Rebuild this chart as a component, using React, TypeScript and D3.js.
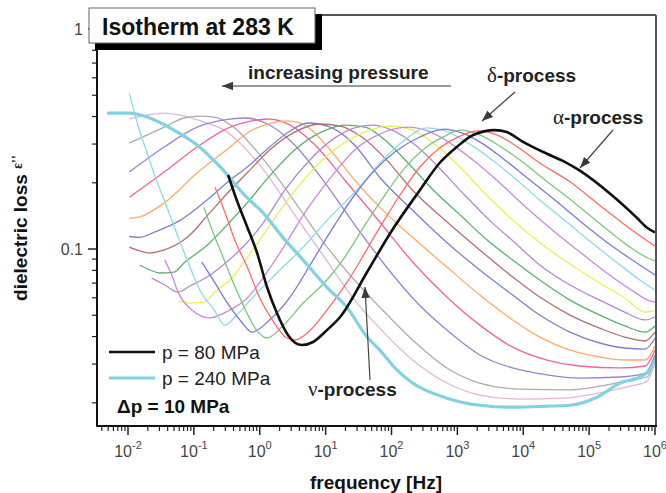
import React from "react";
import * as d3 from "d3";

// ---- data: [log10(frequency / Hz), dielectric loss eps''] ----
const p80 = [[-0.48,0.217],[-0.35,0.167],[-0.19,0.126],[-0.04,0.0959],[0.11,0.0672],[0.26,0.0512],[0.43,0.0406],[0.64,0.0366],[0.81,0.0378],[1.02,0.0428],[1.22,0.0491],[1.63,0.0786],[1.98,0.118],[2.43,0.185],[2.73,0.246],[2.99,0.291],[3.24,0.330],[3.57,0.347],[3.75,0.340],[3.99,0.308],[4.36,0.271],[4.63,0.249],[4.86,0.227],[5.36,0.174],[5.72,0.139],[5.88,0.125],[6.00,0.119]];
const p90 = [[-0.68,0.191],[-0.53,0.147],[-0.38,0.110],[-0.19,0.0828],[0.00,0.0599],[0.19,0.0476],[0.41,0.0394],[0.53,0.0386],[0.72,0.0415],[1.02,0.0528],[1.32,0.0701],[1.55,0.0910],[1.82,0.125],[2.13,0.176],[2.43,0.236],[2.73,0.288],[3.04,0.326],[3.31,0.344],[3.57,0.333],[3.87,0.297],[4.25,0.246],[4.71,0.202],[5.16,0.158],[5.54,0.129],[5.88,0.109],[6.00,0.103]];
const p100 = [[-0.85,0.155],[-0.71,0.119],[-0.57,0.0939],[-0.42,0.0723],[-0.25,0.0556],[-0.07,0.0437],[0.11,0.0394],[0.35,0.0447],[0.66,0.0568],[1.02,0.0723],[1.26,0.0891],[1.60,0.129],[1.90,0.176],[2.20,0.233],[2.51,0.288],[2.81,0.326],[3.05,0.347],[3.34,0.330],[3.64,0.294],[3.95,0.254],[4.33,0.206],[4.78,0.162],[5.24,0.125],[5.62,0.102],[5.89,0.0910],[6.00,0.0882]];
const p110 = [[-0.88,0.0873],[-0.68,0.0701],[-0.50,0.0574],[-0.30,0.0476],[-0.12,0.0419],[0.15,0.0476],[0.46,0.0605],[0.81,0.0891],[1.14,0.129],[1.44,0.176],[1.75,0.229],[2.05,0.276],[2.43,0.323],[2.80,0.351],[3.07,0.337],[3.37,0.303],[3.72,0.254],[4.10,0.206],[4.48,0.167],[4.93,0.129],[5.39,0.101],[5.77,0.0846],[6.00,0.0762]];
const p120 = [[-1.98,0.512],[-1.85,0.366],[-1.71,0.273],[-1.58,0.210],[-1.45,0.167],[-1.26,0.118],[-1.06,0.0828],[-0.91,0.0651],[-0.69,0.0528],[-0.53,0.0451],[-0.35,0.0501],[-0.10,0.0605],[0.26,0.0778],[0.66,0.102],[1.07,0.140],[1.47,0.185],[1.87,0.254],[2.20,0.313],[2.54,0.355],[2.81,0.344],[3.11,0.310],[3.49,0.259],[3.87,0.210],[4.25,0.167],[4.63,0.135],[5.09,0.104],[5.47,0.0846],[5.77,0.0723],[6.00,0.0651]];
const p130 = [[-1.44,0.0891],[-1.33,0.0754],[-1.24,0.0637],[-1.03,0.0528],[-0.76,0.0486],[-0.48,0.0523],[-0.19,0.0599],[0.08,0.0762],[0.38,0.104],[0.69,0.147],[1.07,0.210],[1.44,0.282],[1.82,0.333],[2.25,0.358],[2.55,0.344],[2.89,0.303],[3.27,0.249],[3.64,0.200],[4.02,0.157],[4.40,0.125],[4.86,0.0969],[5.31,0.0762],[5.69,0.0637],[5.89,0.0586],[6.00,0.0574]];
const p140 = [[-1.23,0.0580],[-1.06,0.0568],[-0.85,0.0574],[-0.65,0.0651],[-0.45,0.0723],[-0.24,0.0873],[0.00,0.110],[0.31,0.150],[0.69,0.210],[1.07,0.273],[1.52,0.333],[1.98,0.362],[2.32,0.347],[2.73,0.288],[3.11,0.224],[3.49,0.170],[3.87,0.133],[4.25,0.107],[4.71,0.0855],[5.16,0.0701],[5.54,0.0599],[5.85,0.0517],[6.00,0.0523]];
const p150 = [[-1.64,0.0738],[-1.44,0.0686],[-1.24,0.0637],[-1.06,0.0679],[-0.80,0.0746],[-0.65,0.0803],[-0.35,0.0959],[-0.19,0.107],[0.08,0.135],[0.38,0.185],[0.76,0.254],[1.14,0.320],[1.44,0.355],[1.70,0.366],[2.01,0.347],[2.36,0.297],[2.73,0.233],[3.11,0.176],[3.49,0.135],[3.87,0.107],[4.25,0.0846],[4.71,0.0686],[5.16,0.0586],[5.54,0.0517],[5.85,0.0476],[6.00,0.0491]];
const p160 = [[-1.82,0.0846],[-1.67,0.0803],[-1.51,0.0778],[-1.30,0.0786],[-1.15,0.0864],[-0.80,0.104],[-0.45,0.133],[-0.19,0.162],[0.15,0.215],[0.53,0.282],[0.91,0.337],[1.29,0.366],[1.60,0.358],[1.90,0.313],[2.28,0.241],[2.66,0.182],[3.04,0.143],[3.42,0.112],[3.84,0.0891],[4.25,0.0723],[4.71,0.0586],[5.16,0.0501],[5.54,0.0447],[5.85,0.0419],[6.00,0.0447]];
const p170 = [[-1.98,0.102],[-1.82,0.0980],[-1.67,0.0959],[-1.45,0.0990],[-1.10,0.113],[-0.76,0.146],[-0.45,0.185],[-0.19,0.222],[0.15,0.282],[0.53,0.340],[0.91,0.370],[1.22,0.362],[1.55,0.323],[1.90,0.259],[2.32,0.185],[2.84,0.133],[3.34,0.0990],[3.84,0.0746],[4.25,0.0605],[4.71,0.0501],[5.16,0.0437],[5.54,0.0398],[5.85,0.0382],[6.00,0.0419]];
const p180 = [[-1.98,0.114],[-1.82,0.113],[-1.61,0.119],[-1.21,0.135],[-0.80,0.167],[-0.45,0.206],[-0.19,0.236],[0.15,0.291],[0.46,0.344],[0.73,0.374],[1.07,0.358],[1.44,0.297],[1.82,0.212],[2.32,0.150],[2.84,0.107],[3.34,0.0803],[3.84,0.0618],[4.25,0.0501],[4.71,0.0419],[5.16,0.0374],[5.54,0.0355],[5.85,0.0351],[6.00,0.0394]];
const p190 = [[-1.98,0.138],[-1.82,0.140],[-1.45,0.162],[-0.95,0.222],[-0.45,0.291],[-0.19,0.337],[0.12,0.370],[0.43,0.382],[0.73,0.358],[1.07,0.282],[1.44,0.206],[1.82,0.155],[2.32,0.113],[2.84,0.0828],[3.34,0.0618],[3.84,0.0476],[4.25,0.0398],[4.71,0.0347],[5.16,0.0323],[5.54,0.0313],[5.85,0.0313],[6.00,0.0362]];
const p200 = [[-1.98,0.172],[-1.45,0.224],[-0.95,0.291],[-0.45,0.358],[-0.19,0.378],[0.12,0.390],[0.46,0.366],[0.84,0.297],[1.29,0.206],[1.82,0.133],[2.32,0.0873],[2.84,0.0605],[3.34,0.0451],[3.84,0.0358],[4.36,0.0313],[4.86,0.0294],[5.47,0.0288],[5.85,0.0294],[6.00,0.0347]];
const p210 = [[-1.98,0.224],[-1.45,0.291],[-0.95,0.358],[-0.54,0.386],[-0.22,0.394],[0.12,0.370],[0.53,0.297],[0.99,0.200],[1.44,0.129],[1.90,0.0846],[2.32,0.0599],[2.84,0.0428],[3.34,0.0330],[3.84,0.0288],[4.36,0.0268],[4.86,0.0259],[5.47,0.0262],[5.85,0.0273],[6.00,0.0330]];
const p220 = [[-1.98,0.303],[-1.45,0.358],[-1.15,0.394],[-0.91,0.402],[-0.69,0.398],[-0.38,0.355],[0.00,0.268],[0.46,0.176],[0.91,0.113],[1.37,0.0762],[1.82,0.0545],[2.32,0.0386],[2.84,0.0288],[3.34,0.0246],[3.95,0.0231],[4.71,0.0229],[5.16,0.0238],[5.62,0.0254],[5.88,0.0262],[6.00,0.0320]];
const p230 = [[-1.98,0.390],[-1.71,0.406],[-1.45,0.415],[-1.21,0.406],[-0.85,0.378],[-0.54,0.347],[-0.30,0.303],[0.08,0.224],[0.53,0.143],[0.99,0.0910],[1.44,0.0586],[1.82,0.0437],[2.32,0.0313],[2.84,0.0246],[3.34,0.0217],[3.95,0.0208],[4.60,0.0210],[5.16,0.0222],[5.62,0.0238],[5.88,0.0251],[6.00,0.0306]];
const p240 = [[-2.32,0.415],[-1.97,0.415],[-1.71,0.398],[-1.30,0.347],[-0.95,0.297],[-0.60,0.236],[-0.20,0.172],[0.05,0.146],[0.35,0.113],[0.66,0.089],[1.02,0.067],[1.32,0.0545],[1.63,0.0398],[1.82,0.0348],[2.08,0.0282],[2.32,0.0246],[2.84,0.0210],[3.34,0.0195],[3.84,0.0191],[4.36,0.0193],[4.71,0.0195],[5.12,0.0212],[5.47,0.0246],[5.77,0.0262],[5.92,0.0282],[6.00,0.0313]];

const pressures = [80, 90, 100, 110, 120, 130, 140, 150, 160, 170, 180, 190, 200, 210, 220, 230, 240];
const curveData = [p80, p90, p100, p110, p120, p130, p140, p150, p160, p170, p180, p190, p200, p210, p220, p230, p240];
const curveColors = ["#111111", "#ff6a6a", "#7cc67c", "#7b7bd2", "#8adbe8", "#c98ad8", "#eeee55", "#b48ac8", "#5cb070", "#b07070", "#7f7fcc", "#ffab68", "#f0649c", "#9c82d2", "#acacac", "#e2b6da", "#80d2e2"];

const xExponents = [-2, -1, 0, 1, 2, 3, 4, 5, 6];
const yMajorTicks = [1, 0.1];
const yTickLabels = ["1", "0.1"];
const legendLabels = ["p = 80 MPa", "p = 240 MPa"];

const FONT = "'Liberation Sans', Arial, Helvetica, sans-serif";
const SERIF = "'Liberation Serif', 'Times New Roman', serif";

export default function App() {
  const L = 97, R = 656, T = 15, B = 426;
  const x = d3.scaleLog().domain([Math.pow(10, -2.4706), 1e6]).range([L, 655]);
  const y = d3.scaleLog().domain([0.01569, 1.1579]).range([B, T]);
  const line = d3
    .line<number[]>()
    .x((d) => x(Math.pow(10, d[0])))
    .y((d) => y(d[1]))
    .curve(d3.curveMonotoneX);

  const [xmin, xmax] = x.domain();
  const xMinor: number[] = [];
  for (let k = -3; k <= 5; k++) {
    for (let m = 2; m <= 9; m++) {
      const v = m * Math.pow(10, k);
      if (v >= xmin && v <= xmax) xMinor.push(v);
    }
  }
  const [ymin, ymax] = y.domain();
  const yMinor: number[] = [];
  for (let k = -2; k <= -1; k++) {
    for (let m = 2; m <= 9; m++) {
      const v = m * Math.pow(10, k);
      if (v >= ymin && v <= ymax) yMinor.push(v);
    }
  }

  const order = [15, 14, 13, 12, 11, 10, 9, 8, 7, 6, 5, 4, 3, 2, 1, 16, 0];

  return (
    <svg
      width={666}
      height={493}
      style={{ position: "absolute", left: 0, top: 0, background: "#fff" }}
      fontFamily={FONT}
    >
      <defs>
        <clipPath id="plotclip">
          <rect x={L} y={T} width={R - L} height={B - T} />
        </clipPath>
        <marker
          id="ah"
          viewBox="0 0 10 10"
          refX={10}
          refY={5}
          markerWidth={11}
          markerHeight={11}
          markerUnits="userSpaceOnUse"
          orient="auto"
        >
          <path d="M0,1.2 L10,5 L0,8.8 Z" fill="#3a3a3a" />
        </marker>
      </defs>
      <rect x={0} y={0} width={666} height={493} fill="#fff" />

      {/* curves */}
      <g clipPath="url(#plotclip)" fill="none" strokeLinejoin="round">
        {order.map((i) => (
          <path
            key={pressures[i]}
            d={line(curveData[i]) || ""}
            stroke={curveColors[i]}
            strokeWidth={i === 0 ? 2.6 : i === 16 ? 3.2 : 1.3}
          />
        ))}
      </g>

      {/* frame */}
      <line x1={L} y1={T} x2={R} y2={T} stroke="#555" strokeWidth={2} />
      <line x1={R} y1={T} x2={R} y2={B} stroke="#555" strokeWidth={2} />
      <line x1={L} y1={T} x2={L} y2={B + 1} stroke="#111" strokeWidth={2} />
      <line x1={L - 1} y1={B} x2={R + 1} y2={B} stroke="#111" strokeWidth={2} />

      {/* x ticks */}
      {xMinor.map((v) => (
        <line key={"xm" + v} x1={x(v)} x2={x(v)} y1={B} y2={B + 5} stroke="#222" strokeWidth={1.2} />
      ))}
      {xExponents.map((e) => (
        <g key={"xM" + e}>
          <line x1={x(Math.pow(10, e))} x2={x(Math.pow(10, e))} y1={B} y2={B + 9} stroke="#222" strokeWidth={1.5} />
          <text x={x(Math.pow(10, e))} y={457} textAnchor="middle" fontSize={16} fill="#444">
            <tspan>10</tspan>
            <tspan dy={-8} fontSize={11}>{String(e)}</tspan>
          </text>
        </g>
      ))}

      {/* y ticks */}
      {yMinor.map((v) => (
        <line key={"ym" + v} x1={L - 5} x2={L} y1={y(v)} y2={y(v)} stroke="#222" strokeWidth={1.2} />
      ))}
      {yMajorTicks.map((v, i) => (
        <g key={"yM" + v}>
          {y(v) > T + 2 && <line x1={L - 9} x2={L} y1={y(v)} y2={y(v)} stroke="#222" strokeWidth={1.5} />}
          <text x={83} y={y(v) + 5.5} textAnchor="end" fontSize={16} fill="#444">
            {yTickLabels[i]}
          </text>
        </g>
      ))}

      {/* axis titles */}
      <text x={376} y={489} textAnchor="middle" fontSize={19} fontWeight="bold" fill="#111">
        frequency [Hz]
      </text>
      <text
        transform="translate(27,228) rotate(-90)"
        textAnchor="middle"
        fontSize={19}
        fontWeight="bold"
        fill="#111"
      >
        dielectric loss <tspan fontSize={14} dy={-5} fontFamily={SERIF}>ε''</tspan>
      </text>

      {/* title box */}
      <rect x={95} y={14} width={227} height={36} fill="#000" />
      <rect x={89} y={8} width={226} height={35} fill="#fff" stroke="#666" strokeWidth={1} />
      <text x={102} y={35} fontSize={23} fontWeight="bold" fill="#111">
        Isotherm at 283 K
      </text>

      {/* annotations */}
      <text x={248} y={79} fontSize={19} fontWeight="bold" fill="#222">
        increasing pressure
      </text>
      <line x1={451} y1={86} x2={222} y2={86} stroke="#777" strokeWidth={1.3} markerEnd="url(#ah)" />

      <text x={487} y={82} fontSize={19} fontWeight="bold" fill="#222">
        <tspan fontFamily={SERIF} fontWeight="normal" fontSize={21}>δ</tspan>-process
      </text>
      <line x1={515} y1={92} x2={482} y2={121} stroke="#444" strokeWidth={1.2} markerEnd="url(#ah)" />

      <text x={553} y={124} fontSize={19} fontWeight="bold" fill="#222">
        <tspan fontFamily={SERIF} fontWeight="normal" fontSize={21}>α</tspan>-process
      </text>
      <line x1={613} y1={130} x2={580} y2={168} stroke="#444" strokeWidth={1.2} markerEnd="url(#ah)" />

      <text x={308} y={396} fontSize={19} fontWeight="bold" fill="#222">
        <tspan fontFamily={SERIF} fontWeight="normal" fontSize={21}>ν</tspan>-process
      </text>
      <line x1={370} y1={380} x2={365} y2={287} stroke="#444" strokeWidth={1.2} markerEnd="url(#ah)" />

      {/* legend */}
      <line x1={109} x2={155} y1={352} y2={352} stroke={curveColors[0]} strokeWidth={2.6} />
      <text x={162} y={359} fontSize={19} fill="#222">{legendLabels[0]}</text>
      <line x1={109} x2={155} y1={378} y2={378} stroke={curveColors[16]} strokeWidth={3.2} />
      <text x={162} y={385} fontSize={19} fill="#222">{legendLabels[1]}</text>
      <text x={117} y={413} fontSize={19} fontWeight="bold" fill="#111">
        Δp = 10 MPa
      </text>
    </svg>
  );
}
